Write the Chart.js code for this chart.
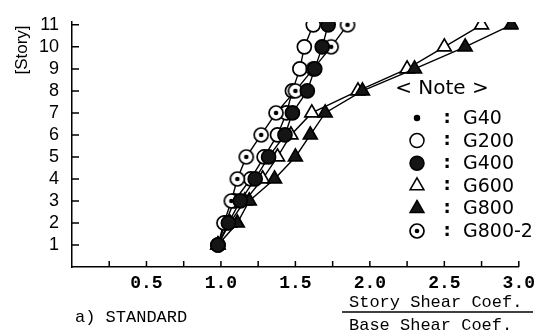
<!DOCTYPE html>
<html>
<head>
<meta charset="utf-8">
<script src="https://cdn.jsdelivr.net/npm/chart.js@4"></script>
<style>
  html, body { margin: 0; padding: 0; background: #fff; }
  #wrap { width: 541px; height: 333px; }
</style>
</head>
<body>
<div id="wrap"><canvas id="shearChart" width="541" height="333"></canvas></div>
<script>
// Stories (y) and shear coefficient ratios (x)
const stories = [1, 2, 3, 4, 5, 6, 7, 8, 9, 10, 11];
const g40 = []; // only listed in the note
const g200 = [0.98, 1.03, 1.09, 1.20, 1.29, 1.38, 1.44, 1.48, 1.53, 1.56, 1.62];
const g400 = [0.98, 1.05, 1.13, 1.23, 1.32, 1.43, 1.48, 1.58, 1.63, 1.68, 1.72];
const g600 = [0.98, 1.06, 1.16, 1.28, 1.38, 1.47, 1.61, 1.92, 2.25, 2.50, 2.75];
const g800 = [0.98, 1.11, 1.19, 1.36, 1.50, 1.60, 1.70, 1.95, 2.30, 2.64, 2.95];
const g800b = [0.98, 1.02, 1.07, 1.11, 1.17, 1.27, 1.37, 1.50, 1.62, 1.74, 1.85];
const xTicks = [0.5, 1.0, 1.5, 2.0, 2.5, 3.0];

// open circle with a dot in the middle
function bullseye() {
    const c = document.createElement('canvas');
    c.width = 18; c.height = 18;
    const g = c.getContext('2d');
    g.fillStyle = '#fff';
    g.strokeStyle = '#000';
    g.lineWidth = 1.7;
    g.beginPath(); g.arc(9, 9, 7, 0, 2 * Math.PI); g.fill(); g.stroke();
    g.fillStyle = '#000';
    g.beginPath(); g.arc(9, 9, 2.3, 0, 2 * Math.PI); g.fill();
    return c;
}
const bullImg = bullseye();

function pts(vals) {
    return vals.map((v, i) => ({ x: v, y: stories[i] }));
}

// order: lower number is drawn on top
const series = [
    { label: 'G40', data: g40, style: 'circle', radius: 2.5, fill: '#000', order: 0 },
    { label: 'G200', data: g200, style: 'circle', radius: 7, fill: '#fff', order: 5 },
    { label: 'G400', data: g400, style: 'circle', radius: 7, fill: '#151515', order: 1 },
    { label: 'G600', data: g600, style: 'triangle', radius: 8, fill: '#fff', order: 4 },
    { label: 'G800', data: g800, style: 'triangle', radius: 8, fill: '#151515', order: 2 },
    { label: 'G800-2', data: g800b, style: bullImg, radius: 7, fill: '#fff', order: 3 }
];

// inward tick marks, texts and the note box
const extras = {
    id: 'extras',
    afterDraw(chart) {
        const ctx = chart.ctx;
        const xs = chart.scales.x, ys = chart.scales.y;
        const a = chart.chartArea;
        ctx.save();
        ctx.strokeStyle = '#000';
        ctx.lineWidth = 1.5;
        ctx.beginPath();
        for (let v = 0.25; v <= 3.001; v += 0.25) {
            const px = xs.getPixelForValue(v);
            ctx.moveTo(px, a.bottom); ctx.lineTo(px, a.bottom - 6);
        }
        stories.forEach(s => {
            const py = ys.getPixelForValue(s);
            ctx.moveTo(a.left, py); ctx.lineTo(a.left + 7, py);
        });
        ctx.stroke();

        // y title
        ctx.fillStyle = '#000';
        ctx.save();
        ctx.translate(22, 50);
        ctx.rotate(-Math.PI / 2);
        ctx.font = '17px "Liberation Sans", sans-serif';
        ctx.textAlign = 'center';
        ctx.textBaseline = 'middle';
        ctx.fillText('[Story]', 0, 0);
        ctx.restore();

        // bottom texts
        ctx.font = '17px "Liberation Mono", monospace';
        ctx.textBaseline = 'middle';
        ctx.textAlign = 'left';
        ctx.fillText('a) STANDARD', 75, 317);
        ctx.fillText('Story Shear Coef.', 349, 302);
        ctx.fillText('Base Shear Coef.', 349, 325);
        ctx.lineWidth = 1.5;
        ctx.beginPath(); ctx.moveTo(342, 312); ctx.lineTo(533, 312); ctx.stroke();

        // note
        ctx.font = '20px "DejaVu Sans", sans-serif';
        ctx.textAlign = 'center';
        ctx.fillText('< Note >', 442, 89);
        series.forEach((s, i) => {
            const y = 118 + i * 22.6;
            ctx.fillStyle = s.fill;
            ctx.strokeStyle = '#000';
            Chart.helpers.drawPoint(ctx, {
                pointStyle: s.style, radius: s.radius, rotation: 0, borderWidth: 1.7
            }, 417, y);
            ctx.fillStyle = '#000';
            ctx.font = 'bold 18px "DejaVu Sans", sans-serif';
            ctx.textAlign = 'center';
            ctx.fillText(':', 447, y);
            ctx.font = '19px "DejaVu Sans", sans-serif';
            ctx.textAlign = 'left';
            ctx.fillText(s.label, 463, y + 1);
        });
        ctx.restore();
    }
};

document.addEventListener('DOMContentLoaded', () => {
    const ctx = document.getElementById('shearChart').getContext('2d');
    new Chart(ctx, {
        type: 'scatter',
        data: {
            datasets: series.map(s => ({
                label: s.label,
                data: pts(s.data),
                order: s.order,
                showLine: true,
                borderColor: '#000',
                borderWidth: 1.4,
                backgroundColor: s.fill,
                pointStyle: s.style,
                pointRadius: s.radius,
                pointBorderColor: '#000',
                pointBorderWidth: 1.7,
                pointBackgroundColor: s.fill
            }))
        },
        options: {
            responsive: false,
            animation: false,
            layout: { padding: { top: 20, right: 21, left: 0, bottom: 0 } },
            plugins: {
                legend: { display: false },
                tooltip: { enabled: false }
            },
            scales: {
                x: {
                    type: 'linear',
                    min: 0,
                    max: 3,
                    afterBuildTicks: sc => { sc.ticks = xTicks.map(v => ({ value: v })); },
                    afterFit: sc => { sc.height = 66; },
                    grid: { display: true, drawOnChartArea: false, drawTicks: false },
                    border: { color: '#000', width: 1.5 },
                    ticks: {
                        color: '#000',
                        padding: 6,
                        autoSkip: false,
                        font: { family: '"Liberation Mono", monospace', size: 18, weight: 'bold' },
                        callback: v => v.toFixed(1)
                    }
                },
                y: {
                    type: 'linear',
                    min: 0,
                    max: 11.13,
                    afterBuildTicks: sc => { sc.ticks = stories.map(v => ({ value: v })); },
                    afterFit: sc => { sc.width = 72; },
                    grid: { display: true, drawOnChartArea: false, drawTicks: false },
                    border: { color: '#000', width: 1.5 },
                    ticks: {
                        color: '#000',
                        padding: 13,
                        autoSkip: false,
                        font: { family: '"Liberation Sans", sans-serif', size: 18, lineHeight: 1 }
                    }
                }
            }
        },
        plugins: [extras]
    });
});
</script>
</body>
</html>
